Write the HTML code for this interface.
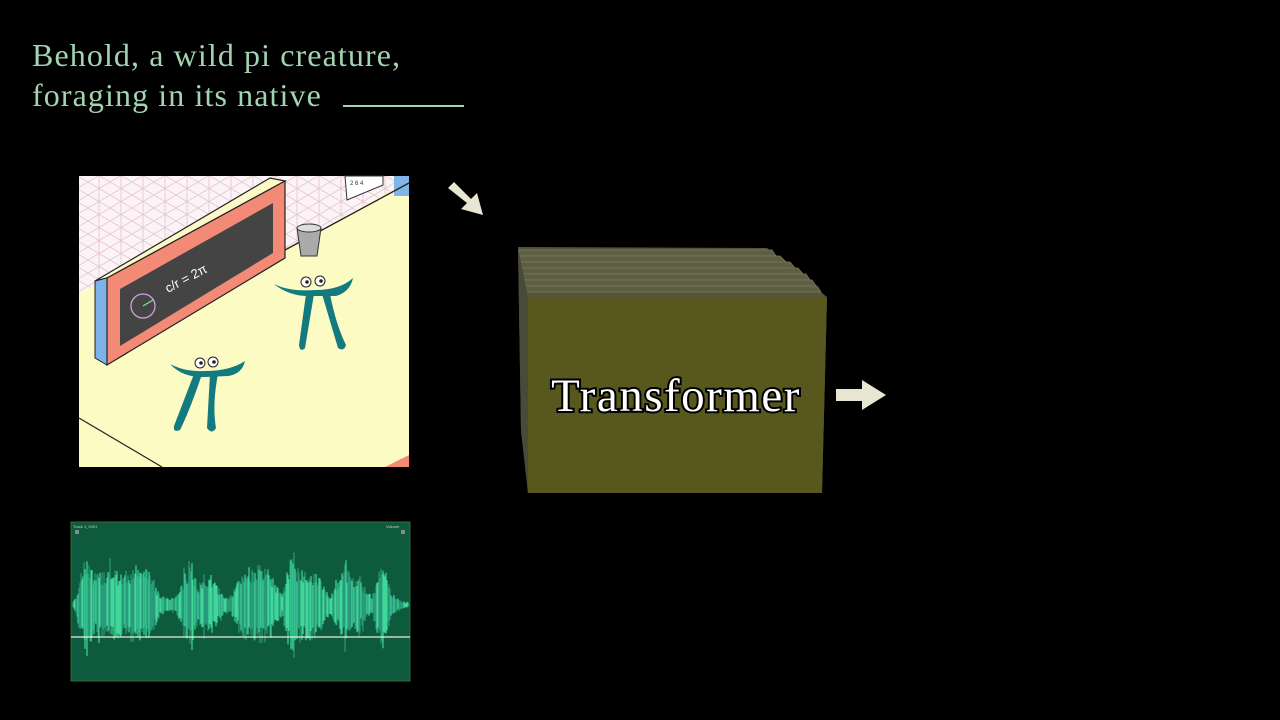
<!DOCTYPE html>
<html><head><meta charset="utf-8"><style>
html,body{margin:0;padding:0;background:#000;}
body{width:1280px;height:720px;position:relative;overflow:hidden;}
.t{position:absolute;left:32px;font-family:"Liberation Serif",serif;font-size:32px;letter-spacing:1.1px;color:#a2d4b2;white-space:nowrap;}
</style></head><body>
<div class="t" style="top:37px">Behold, a wild pi creature,</div>
<div class="t" style="top:77px">foraging in its native</div>
<div style="position:absolute;left:343px;top:105px;width:121px;height:2px;background:#a2d4b2"></div>

<svg width="1280" height="720" style="position:absolute;left:0;top:0">
<defs>
<pattern id="grid" width="22" height="13" patternUnits="userSpaceOnUse">
<rect width="22" height="13" fill="#fbf3f6"/>
<path d="M0 13 L22 0 M0 0 L22 13 M11 0 V13" stroke="#e2bcc8" stroke-width="0.7"/>
</pattern>
</defs>
<rect x="79" y="176" width="330" height="291" fill="#fdfbc4"/>
<polygon points="79,176 409,176 409,190 392,190 285,250 285,181 107,278 79,294" fill="url(#grid)"/>
<rect x="394" y="176" width="15" height="20" fill="#7fb5e8"/>
<polyline points="285,250 409,183" stroke="#222" stroke-width="1.3" fill="none"/>
<polygon points="345,176 383,176 383,185 347,200" fill="#fff" stroke="#333" stroke-width="1"/>
<text x="350" y="185" font-size="6" fill="#333" font-family="Liberation Sans">2 6 4</text>
<polygon points="95,281 270,178 285,181 107,278" fill="#fdf8c8" stroke="#222" stroke-width="1.2"/>
<polygon points="95,281 107,278 107,365 95,358" fill="#7db3ea" stroke="#222" stroke-width="1"/>
<polygon points="107,278 285,181 285,258 107,365" fill="#f28a75" stroke="#222" stroke-width="1.2"/>
<polygon points="120,289 273,203 273,253 120,346" fill="#444"/>
<circle cx="143" cy="306" r="12" fill="none" stroke="#cfa0e0" stroke-width="1.3"/>
<line x1="143" y1="306" x2="153" y2="300" stroke="#7ee0a0" stroke-width="1.3"/>
<text x="168" y="293" font-size="13" fill="#fff" font-family="Liberation Sans" transform="rotate(-28 168 293)">c/r = 2π</text>
<polyline points="79,418 162,467" stroke="#222" stroke-width="1.2"/>
<polygon points="385,467 409,455 409,467" fill="#f28a75"/>
<path d="M297,228 L321,228 L317,256 L301,256 Z" fill="#aaa" stroke="#333"/>
<ellipse cx="309" cy="228" rx="12" ry="4" fill="#ddd" stroke="#333"/>
<g fill="#137a80">
<path d="M274,284 Q290,292 315,290 Q340,290 353,278 Q350,292 336,296 L312,296 Q290,297 274,284 Z"/>
<path d="M306,294 L314,294 Q308,330 305,348 Q300,353 299,345 Z"/>
<path d="M322,294 L330,294 Q336,325 346,345 Q344,352 338,348 Z"/>
</g>
<circle cx="306" cy="282" r="5" fill="#fff" stroke="#222"/><circle cx="320" cy="281" r="5" fill="#fff" stroke="#222"/>
<circle cx="307" cy="282" r="1.8" fill="#222"/><circle cx="321" cy="281" r="1.8" fill="#222"/>
<g fill="#137a80">
<path d="M170,364 Q185,372 205,371 Q230,371 245,361 Q242,374 228,376 L205,377 Q183,378 170,364 Z"/>
<path d="M194,374 L202,374 Q190,410 180,430 Q173,433 174,426 Z"/>
<path d="M210,374 L218,374 Q212,405 216,428 Q212,435 207,428 Z"/>
</g>
<circle cx="200" cy="363" r="5" fill="#fff" stroke="#222"/><circle cx="213" cy="362" r="5" fill="#fff" stroke="#222"/>
<circle cx="201" cy="363" r="1.8" fill="#222"/><circle cx="214" cy="362" r="1.8" fill="#222"/>

<rect x="71" y="522" width="339" height="159" fill="#0d5a3c"/>
<rect x="71" y="522" width="339" height="159" fill="none" stroke="#3a6a3a" stroke-width="1"/>
<text x="73" y="528" font-size="4" fill="#ccc" font-family="Liberation Sans">Track 1_0001</text>
<text x="386" y="528" font-size="4" fill="#ccc" font-family="Liberation Sans">Volume</text>
<rect x="75" y="530" width="4" height="4" fill="#888"/><rect x="401" y="530" width="4" height="4" fill="#888"/>
<g id="wave"></g>
<line x1="71" y1="637" x2="410" y2="637" stroke="#e8f0d8" stroke-width="1.3"/>

<polygon points="448,188 454,182 471,199 477,193 483,215 461,209 467,203" fill="#e8e6d2"/>
<polygon points="836,389 862,389 862,380 886,395 862,410 862,401 836,401" fill="#e8e6d2"/>

<polygon points="518,247 767,248 827,297 822,493 528,493 521,430" fill="#55553a"/>
<g fill="#5e5e42" stroke="#7a7a66" stroke-width="0.8">
<polygon points="519,250 772,250 776,256 519,256"/>
<polygon points="520,256 780,256 786,262 520,262"/>
<polygon points="521,262 790,262 795,268 521,268"/>
<polygon points="522,268 798,268 803,274 522,274"/>
<polygon points="523,274 806,274 810,280 523,280"/>
<polygon points="524,280 812,280 816,286 524,286"/>
<polygon points="525,286 817,286 821,292 525,292"/>
</g>
<polygon points="518,247 528,297 528,493 521,430" fill="#4a4a38"/>
<polygon points="528,297 827,297 822,493 528,493" fill="#57571e"/>
<text x="676" y="411" text-anchor="middle" font-family="Liberation Serif,serif" font-size="47" letter-spacing="1.5" fill="#fff" stroke="#000" stroke-width="4" paint-order="stroke">Transformer</text>
</svg>
<script>
(function(){
var g=document.getElementById('wave');var s='';var seed=7;
function r(){seed=(seed*9301+49297)%233280;return seed/233280;}
var env=[[73,4],[76,12],[85,58],[95,38],[110,45],[120,38],[135,48],[150,42],[160,12],[170,8],[178,14],[190,55],[198,24],[210,38],[222,14],[230,10],[245,45],[258,48],[270,42],[282,10],[290,60],[300,45],[315,42],[330,12],[345,45],[360,30],[372,10],[382,60],[392,14],[400,6],[408,3]];
function e(x){for(var i=0;i<env.length-1;i++){if(x>=env[i][0]&&x<=env[i+1][0]){var t=(x-env[i][0])/(env[i+1][0]-env[i][0]);return env[i][1]*(1-t)+env[i+1][1]*t;}}return 2;}
for(var x=73;x<409;x+=1){var k=r()<0.1?1.1:0.85;var a=e(x)*k*(0.55+0.45*r());var b=e(x)*k*(0.55+0.45*r());
s+='<line x1="'+x+'" y1="'+(605-a)+'" x2="'+x+'" y2="'+(605+b)+'" stroke="'+(r()>0.5?'#3fd89a':'#2a9a7a')+'" stroke-width="1.2"/>';}
g.innerHTML=s;})();
</script>
</body></html>
